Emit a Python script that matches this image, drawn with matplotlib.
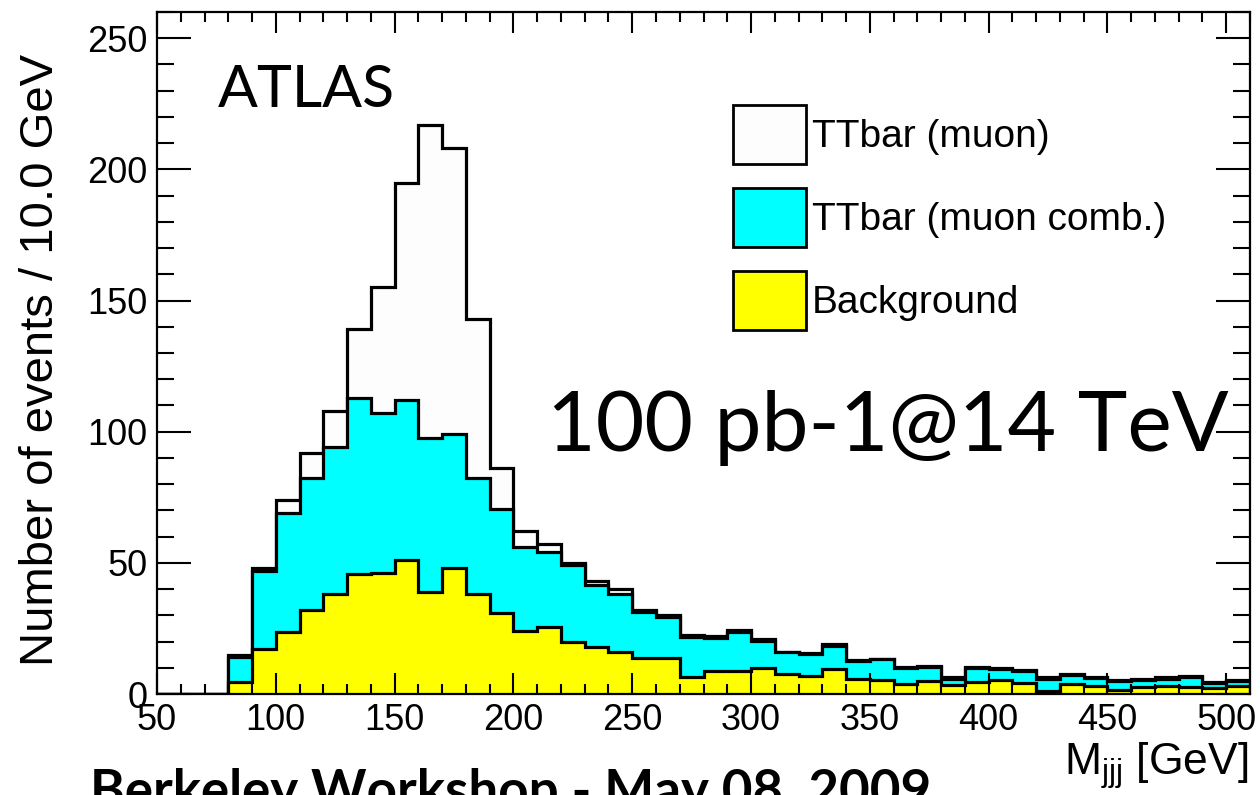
import numpy as np
import matplotlib
matplotlib.use("Agg")
import matplotlib.pyplot as plt
from matplotlib.patches import Patch
from matplotlib.ticker import MultipleLocator

# ---------------- data (10 GeV bins, 50 -> 510 GeV) ----------------
bin_edges = list(range(50, 520, 10))
background = [0, 0, 0, 4.4, 17.2, 23.8, 32, 38, 45.6, 46, 51, 38.7, 48, 38, 31, 24,
              25.5, 20, 18, 16, 13.6, 13.6, 6.6, 8.9, 8.9, 9.8, 7.6, 6.9, 9.5, 5.6,
              5.2, 4.0, 5.1, 3.3, 4.7, 5.3, 4.3, 1.3, 3.7, 3.2, 1.6, 2.6, 3.2, 2.6, 2.2, 3.0]
ttbar_comb = [0, 0, 0, 9.6, 29.8, 45.2, 50.5, 56, 67.4, 61, 61, 58.8, 51, 44.5, 39.5, 32,
              28.5, 29, 23.5, 22, 17.7, 15.8, 15.2, 12.3, 14.9, 10.5, 8.3, 8.3, 8.8, 7.1,
              8.0, 5.8, 5.2, 2.5, 5.3, 4.1, 4.4, 4.6, 3.4, 3.0, 3.4, 2.9, 2.7, 3.9, 2.1, 1.9]
ttbar_muon = [0, 0, 0, 1, 1, 5, 9.5, 14, 26, 48, 83, 119.5, 109, 60.5, 15.5, 6,
              3, 1, 1.5, 2, 0.7, 0.6, 0.7, 0.8, 0.7, 0.7, 0.1, 0.3, 0.7, 0.3,
              0.3, 0.4, 0.4, 0.8, 0.4, 0.4, 0.4, 0.4, 0.4, 0.4, 0.3, 0.4, 0.4, 0.4, 0.4, 0.4]
legend_labels = ["TTbar (muon)", "TTbar (muon comb.)", "Background"]
fill_colors = ["#fdfdfd", "#00ffff", "#ffff00"]

plt.rcParams['font.family'] = ['Liberation Sans', 'DejaVu Sans']
plt.rcParams['mathtext.fontset'] = 'custom'
plt.rcParams['mathtext.rm'] = 'Liberation Sans'
plt.rcParams['mathtext.it'] = 'Liberation Sans:italic'
plt.rcParams['mathtext.bf'] = 'Liberation Sans:bold'

W, H = 1260, 795
fig = plt.figure(figsize=(W / 100, H / 100), dpi=100)
ax = fig.add_axes([157 / W, 1 - 694 / H, 1093 / W, 682 / H])

bkg = np.array(background, dtype=float)
comb_top = bkg + np.array(ttbar_comb, dtype=float)
total = comb_top + np.array(ttbar_muon, dtype=float)
edges = np.array(bin_edges, dtype=float)

lw = 2.3
for vals, col in zip([total, comb_top, bkg], fill_colors):
    ax.stairs(vals, edges, baseline=0, fill=True, facecolor=col, edgecolor='none')
    ax.stairs(vals, edges, baseline=0, fill=False, edgecolor='black', linewidth=lw)

ax.set_xlim(50, 510)
ax.set_ylim(0, 260)
ax.xaxis.set_major_locator(MultipleLocator(50))
ax.xaxis.set_minor_locator(MultipleLocator(10))
ax.yaxis.set_major_locator(MultipleLocator(50))
ax.yaxis.set_minor_locator(MultipleLocator(10))
ax.tick_params(which='both', direction='in', top=True, right=True, width=1.5, color='black')
ax.tick_params(axis='x', which='major', length=15, pad=6.5, labelsize=26)
ax.tick_params(axis='x', which='minor', length=7.5)
ax.tick_params(axis='y', which='major', length=24.5, pad=7, labelsize=26)
ax.tick_params(axis='y', which='minor', length=12)
for s in ax.spines.values():
    s.set_linewidth(1.6)

handles = [Patch(facecolor=c, edgecolor='black', linewidth=2.0) for c in fill_colors]
ax.legend(handles, legend_labels, loc='upper left',
          bbox_to_anchor=((733 - 157) / 1093, (694 - 105) / 682),
          frameon=False, fontsize=28, handlelength=1.88, handleheight=1.95,
          handletextpad=0.14, labelspacing=0.62, borderpad=0, borderaxespad=0)

# texts
fig.text(41 / W, 1 - 54 / H, "Number of events / 10.0 GeV", rotation=90,
         ha='center', va='top', fontsize=34)
fig.text(1248 / W, 1 - 775 / H, r'M$_{\rm jjj}$ [GeV]', ha='right', va='baseline', fontsize=32)

atlas = fig.text(218 / W, 1 - 107 / H, "ATLAS", family=['Lato', 'DejaVu Sans'],
                 fontsize=44, va='baseline')
lumi = fig.text(547 / W, 1 - 451 / H, "100 pb-1@14 TeV", family=['Lato', 'DejaVu Sans'],
                fontsize=64, va='baseline')
foot = fig.text(90 / W, 0, "Berkeley Workshop - May 08, 2009", family=['Lato', 'DejaVu Sans'],
                fontweight='bold', fontsize=32, va='baseline')

def fit_width(t, target_px):
    fig.canvas.draw()
    r = fig.canvas.get_renderer()
    w = t.get_window_extent(r).width
    t.set_fontsize(t.get_fontsize() * target_px / w)

fit_width(atlas, 395 - 218)
fit_width(lumi, 1229 - 547)
fit_width(foot, 932 - 90)
cap_px = 0.7165 * foot.get_fontsize() * 100 / 72
foot.set_y(1 - (770 + cap_px) / H)

fig.savefig("out.png", dpi=100)
